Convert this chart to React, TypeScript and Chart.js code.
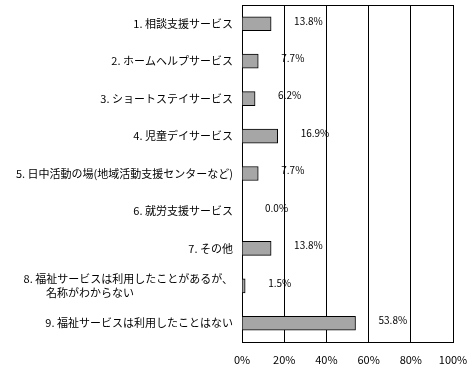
import React, { useEffect, useRef } from "react";
import { Chart, registerables } from "chart.js";

Chart.register(...registerables);

const categories: (string | string[])[] = [
  "1. 相談支援サービス",
  "2. ホームヘルプサービス",
  "3. ショートステイサービス",
  "4. 児童デイサービス",
  "5. 日中活動の場(地域活動支援センターなど)",
  "6. 就労支援サービス",
  "7. その他",
  ["8. 福祉サービスは利用したことがあるが、", "名称がわからない　　　　　　　　　"],
  "9. 福祉サービスは利用したことはない",
];

const values: number[] = [13.8, 7.7, 6.2, 16.9, 7.7, 0.0, 13.8, 1.5, 53.8];

const xTicks: number[] = [0, 20, 40, 60, 80, 100];

const FONT = "'Noto Sans CJK JP', 'Noto Sans', sans-serif";

const framePlugin = {
  id: "frame",
  beforeDatasetsDraw(chart: any) {
    const { ctx, chartArea } = chart;
    ctx.save();
    ctx.strokeStyle = "#000";
    ctx.lineWidth = 1;
    ctx.strokeRect(
      Math.round(chartArea.left) + 0.5,
      Math.round(chartArea.top) + 0.5,
      Math.round(chartArea.right - chartArea.left),
      Math.round(chartArea.bottom - chartArea.top)
    );
    ctx.restore();
  },
};

const valueLabelPlugin = {
  id: "valueLabels",
  afterDatasetsDraw(chart: any) {
    const { ctx } = chart;
    const meta = chart.getDatasetMeta(0);
    ctx.save();
    ctx.fillStyle = "#000";
    ctx.font = `10px ${FONT}`;
    ctx.textAlign = "left";
    ctx.textBaseline = "middle";
    meta.data.forEach((bar: any, i: number) => {
      const v = values[i];
      ctx.fillText(v.toFixed(1) + "%", bar.x + 23, bar.y - 3);
    });
    ctx.restore();
  },
};

export default function App() {
  const ref = useRef<HTMLCanvasElement | null>(null);

  useEffect(() => {
    if (!ref.current) return;
    const chart = new Chart(ref.current, {
      type: "bar",
      data: {
        labels: categories,
        datasets: [
          {
            data: values,
            backgroundColor: "#a6a6a6",
            borderColor: "#000",
            borderWidth: 1,
            barThickness: 14,
          },
        ],
      },
      options: {
        indexAxis: "y",
        animation: false,
        responsive: true,
        maintainAspectRatio: false,
        layout: { padding: { top: 5, right: 17, left: 0, bottom: 0 } },
        plugins: {
          legend: { display: false },
          tooltip: { enabled: false },
        },
        scales: {
          x: {
            min: 0,
            max: 100,
            afterBuildTicks: (scale: any) => {
              scale.ticks = xTicks.map((v) => ({ value: v }));
            },
            afterFit: (scale: any) => {
              scale.height = 24;
              scale.paddingLeft = 0;
              scale.paddingRight = 0;
            },
            ticks: {
              callback: (v: any) => v + "%",
              color: "#000",
              font: { family: FONT, size: 11 },
              padding: 11,
              maxRotation: 0,
            },
            grid: { color: "#000", lineWidth: 1, drawTicks: false },
            border: { display: false },
          },
          y: {
            afterFit: (scale: any) => {
              scale.width = 242;
              scale.paddingTop = 0;
              scale.paddingBottom = 0;
            },
            ticks: {
              color: "#000",
              font: { family: FONT, size: 11 },
              padding: 9,
              autoSkip: false,
            },
            grid: { display: false, drawTicks: false },
            border: { display: false },
          },
        },
      },
      plugins: [framePlugin, valueLabelPlugin],
    });
    return () => chart.destroy();
  }, []);

  return (
    <div style={{ position: "fixed", left: 0, top: 0, width: 470, height: 366, background: "#fff" }}>
      <canvas ref={ref} />
    </div>
  );
}
